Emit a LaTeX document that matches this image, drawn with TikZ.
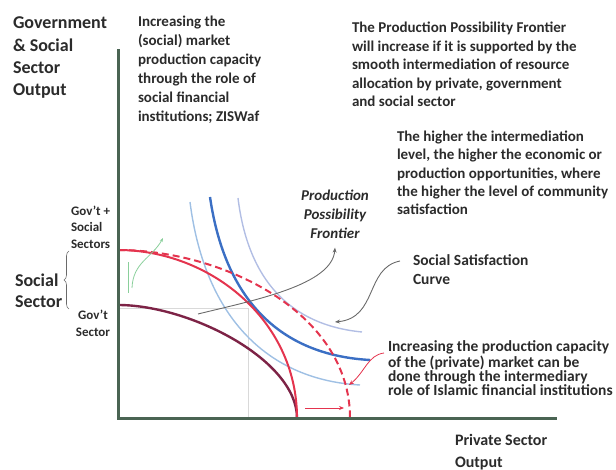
\documentclass[tikz,border=0pt]{standalone}
\usepackage{fontspec}
\setmainfont{Carlito}
\usetikzlibrary{arrows.meta,decorations.pathreplacing}

\definecolor{ink}{HTML}{2B2B2B}
\definecolor{axiscol}{HTML}{4A6453}
\definecolor{govcol}{RGB}{125,35,70}
\definecolor{ppfred}{RGB}{228,52,78}
\definecolor{bluedark}{HTML}{3B6FC4}
\definecolor{bluelight}{HTML}{9FC0E4}
\definecolor{bluepale}{HTML}{B2BEE4}
\definecolor{annot}{HTML}{6A6A6A}
\definecolor{greenarr}{HTML}{8ACF9B}
\definecolor{faint}{HTML}{D9D9D9}

\begin{document}
\begin{tikzpicture}[x=1pt,y=-1pt,
  txt/.style={inner sep=0pt, outer sep=0pt, text=ink, align=left, anchor=north west},
  axisline/.style={draw=axiscol, line width=3pt},
  govcurve/.style={draw=govcol, line width=2.4pt},
  ppfcurve/.style={draw=ppfred, line width=2pt},
  sscurve/.style={line width=1.4pt},
  pointer/.style={draw=annot, line width=0.9pt, -{Stealth[length=5pt,width=4pt]}},
  redpointer/.style={draw=ppfred, line width=0.8pt, -{Stealth[length=5pt,width=4pt]}},
  guide/.style={draw=faint, line width=0.6pt}]

\useasboundingbox (0,0) rectangle (616,470);

% key points of the axes and frontiers
\coordinate (O) at (118,418);
\coordinate (Ytop) at (118,51);
\coordinate (Xend) at (555,418);
\coordinate (govY) at (118,305);
\coordinate (socY) at (118,250);
\coordinate (baseX) at (297,418);
\coordinate (extX) at (350,418);

% projection guides
\coordinate (gH) at (248,308);
\draw[guide] (118,308) -- (gH) -- (248,418);

% social satisfaction (indifference) curves
\coordinate (ss1a) at (190,202); \coordinate (ss1b) at (360,385);
\coordinate (ss2a) at (210,197); \coordinate (ss2b) at (370,360);
\coordinate (ss3a) at (238,198); \coordinate (ss3b) at (362,332);
\draw[sscurve, draw=bluelight] (ss1a) .. controls (205,320) and (270,380) .. (ss1b);
\draw[sscurve, draw=bluepale] (ss3a) .. controls (248,280) and (290,325) .. (ss3b);
\draw[draw=bluedark, line width=2.4pt] (ss2a) .. controls (225,300) and (280,355) .. (ss2b);

% production possibility frontiers
\draw[govcurve] (govY) .. controls (190,305) and (297,360) .. (baseX);
\draw[ppfcurve] (socY) .. controls (210,250) and (297,320) .. (baseX);
\draw[ppfcurve, dash pattern=on 7pt off 4pt] (socY) .. controls (222,250) and (350,312) .. (extX);

% outward shift of the frontier
\coordinate (shA) at (305,408); \coordinate (shB) at (344,408);
\draw[redpointer] (shA) -- (shB);

% social sector contribution on the vertical axis
\coordinate (grA) at (128,293); \coordinate (grB) at (128,262);
\coordinate (grC) at (132,288); \coordinate (grD) at (163,238);
\draw[draw=greenarr, line width=0.8pt] (grA) -- (grB);
\draw[draw=greenarr, line width=0.8pt, -{Stealth[length=4pt,width=3pt]}] (grC) .. controls (133,262) and (152,258) .. (grD);

% axes
\draw[axisline, line cap=rect] (Ytop) -- (O) -- (Xend);

% texts
\node[txt, font=\fontsize{18}{22.3}\selectfont\bfseries] (yaxis) at (13,17)
  {Government\\\& Social\\Sector\\Output};
\node[txt, font=\fontsize{15}{19}\selectfont\bfseries] (socialmkt) at (138,16)
  {Increasing the\\(social) market\\production capacity\\through the role of\\social financial\\institutions; ZISWaf};
\node[txt, font=\fontsize{15}{18.5}\selectfont\bfseries] (ppfnote) at (352,22)
  {The Production Possibility Frontier\\will increase if it is supported by the\\smooth intermediation of resource\\allocation by private, government\\and social sector};
\node[txt, font=\fontsize{15}{18.25}\selectfont\bfseries] (higher) at (397,131)
  {The higher the intermediation\\level, the higher the economic or\\production opportunities, where\\the higher the level of community\\satisfaction};
\node[txt, font=\fontsize{15.5}{14}\selectfont\bfseries] (privmkt) at (388,341)
  {Increasing the production capacity\\of the (private) market can be\\done through the intermediary\\role of Islamic financial institutions};
\node[txt, anchor=north, align=center, font=\fontsize{15}{19}\selectfont\bfseries\itshape] (ppflabel) at (335,190)
  {Production\\Possibility\\Frontier};
\node[txt, font=\fontsize{15.5}{19}\selectfont\bfseries] (sslabel) at (413,255)
  {Social Satisfaction\\Curve};
\node[txt, font=\fontsize{16}{22}\selectfont\bfseries] (xaxis) at (455,434)
  {Private Sector\\Output};
\node[txt, font=\fontsize{13}{16.5}\selectfont\bfseries] (govsoc) at (71,206)
  {Gov't +\\Social\\Sectors};
\node[txt, anchor=north, align=center, font=\fontsize{13}{17}\selectfont\bfseries] (gov) at (93,310)
  {Gov't\\Sector};
\node[txt, font=\fontsize{18}{21}\selectfont\bfseries] (social) at (15,274)
  {Social\\Sector};

% brace grouping the two vertical intercepts
\draw[draw=annot, line width=0.6pt, decorate, decoration={brace, amplitude=5pt}] (69,309) -- (69,251);

% callout connectors
\coordinate (ppfEnd) at (198,314);
\draw[pointer, {Stealth[length=5pt,width=4pt]}-] ([yshift=-9pt]ppflabel.south) .. controls (332,285) and (255,300) .. (ppfEnd);
\coordinate (ssEnd) at (335,322);
\draw[pointer] ([xshift=-13pt,yshift=-6pt]sslabel.north west) .. controls (365,268) and (378,318) .. (ssEnd);
\coordinate (privEnd) at (349,385);
\draw[redpointer] ([xshift=-4pt,yshift=-12pt]privmkt.north west) .. controls (368,355) and (365,372) .. (privEnd);

\end{tikzpicture}
\end{document}
